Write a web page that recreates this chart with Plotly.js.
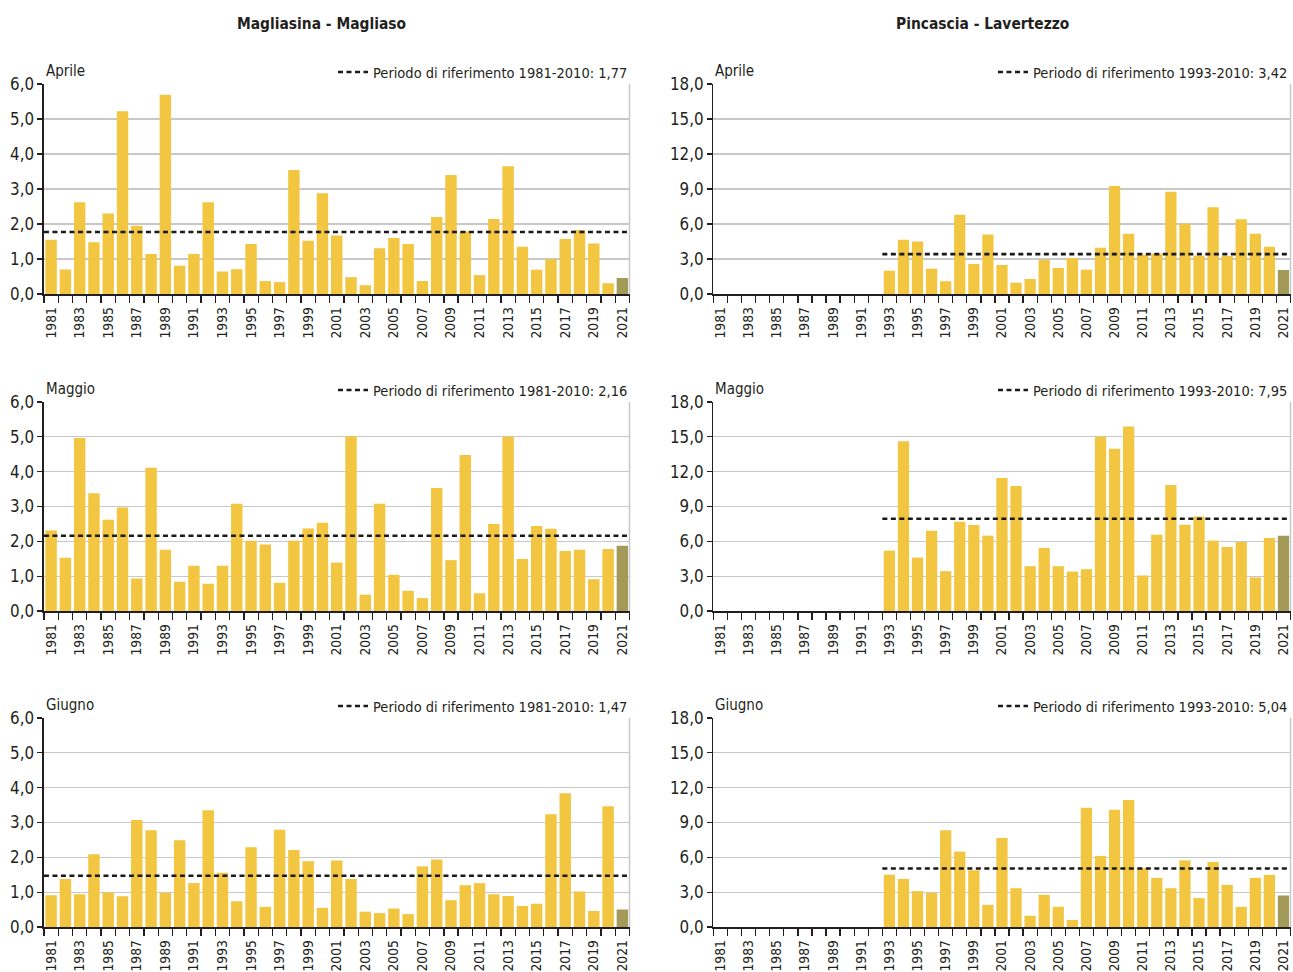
<!DOCTYPE html>
<html>
<head>
<meta charset="utf-8">
<script src="https://cdn.plot.ly/plotly-3.0.1.min.js"></script>
<style>
  html, body { margin: 0; padding: 0; background: #ffffff; }
  #chart { width: 1293px; height: 972px; }
</style>
</head>
<body>
<div id="chart"></div>
<script>
// ---------------- DATA ----------------
const years = [1981,1982,1983,1984,1985,1986,1987,1988,1989,1990,1991,1992,1993,1994,1995,1996,1997,1998,1999,2000,
               2001,2002,2003,2004,2005,2006,2007,2008,2009,2010,2011,2012,2013,2014,2015,2016,2017,2018,2019,2020,2021];
const labelYears = [1981,1983,1985,1987,1989,1991,1993,1995,1997,1999,2001,2003,2005,2007,2009,2011,2013,2015,2017,2019,2021];
const labelText = ['1981','1983','1985','1987','1989','1991','1993','1995','1997','1999','2001','2003','2005','2007','2009','2011','2013','2015','2017','2019','2021'];

const stationTitles = ['Magliasina - Magliaso', 'Pincascia - Lavertezzo'];
const monthNames = ['Aprile', 'Maggio', 'Giugno'];

// Magliasina - Magliaso
const magliasinaApr = [1.55,0.70,2.62,1.48,2.30,5.22,1.95,1.14,5.69,0.81,1.14,2.62,0.64,0.71,1.43,0.37,0.34,3.54,1.52,2.88,
                       1.67,0.48,0.25,1.31,1.60,1.43,0.37,2.20,3.40,1.79,0.54,2.14,3.65,1.35,0.69,0.99,1.57,1.83,1.44,0.31,0.46];
const magliasinaMag = [2.31,1.53,4.97,3.38,2.62,2.97,0.93,4.11,1.76,0.84,1.30,0.78,1.30,3.08,2.02,1.91,0.81,2.02,2.37,2.53,
                       1.39,5.02,0.47,3.08,1.04,0.58,0.37,3.53,1.46,4.48,0.51,2.50,5.00,1.49,2.44,2.36,1.72,1.76,0.91,1.78,1.87];
const magliasinaGiu = [0.91,1.38,0.94,2.09,0.99,0.88,3.07,2.78,0.98,2.49,1.26,3.35,1.56,0.74,2.29,0.58,2.79,2.21,1.89,0.55,
                       1.91,1.38,0.44,0.40,0.53,0.37,1.74,1.94,0.77,1.20,1.26,0.94,0.89,0.60,0.67,3.24,3.84,1.02,0.46,3.47,0.50];

// Pincascia - Lavertezzo (data from 1993)
const pincasciaApr = [null,null,null,null,null,null,null,null,null,null,null,null,
                      2.00,4.66,4.49,2.17,1.09,6.80,2.57,5.09,2.49,0.97,1.29,2.94,2.23,3.09,2.09,3.97,9.26,5.17,3.37,3.46,8.77,6.03,3.29,7.43,3.26,6.40,5.17,4.06,2.06];
const pincasciaMag = [null,null,null,null,null,null,null,null,null,null,null,null,
                      5.20,14.63,4.60,6.91,3.43,7.69,7.40,6.49,11.46,10.77,3.86,5.43,3.86,3.40,3.60,15.00,13.97,15.89,3.06,6.57,10.86,7.43,8.14,6.06,5.51,5.94,2.89,6.29,6.49];
const pincasciaGiu = [null,null,null,null,null,null,null,null,null,null,null,null,
                      4.51,4.14,3.09,2.94,8.34,6.49,4.89,1.91,7.66,3.34,0.97,2.77,1.74,0.60,10.26,6.11,10.09,10.94,5.06,4.23,3.34,5.74,2.49,5.60,3.63,1.74,4.23,4.49,2.71];

const magliasinaRef = [1.77, 2.16, 1.47];
const pincasciaRef = [3.42, 7.95, 5.04];
const magliasinaPeriod = '1981-2010';
const pincasciaPeriod = '1993-2010';

const magliasinaYTicks = [0,1,2,3,4,5,6];
const pincasciaYTicks = [0,3,6,9,12,15,18];

// ---------------- FONT PICKING (narrow font if installed) ----------------
const SAMPLE = 'Periodo di riferimento 1981-2010: 1,77';
const ctx = document.createElement('canvas').getContext('2d');
function tw(fam, stretch, px) {
  ctx.font = px + 'px ' + fam;
  try { ctx.fontStretch = stretch; } catch (e) {}
  const w = ctx.measureText(SAMPLE).width;
  try { ctx.fontStretch = 'normal'; } catch (e) {}
  return w;
}
function installed(fam) {
  return tw(fam + ', monospace', 'normal', 40) !== tw('monospace', 'normal', 40) ||
         tw(fam + ', serif', 'normal', 40) !== tw('serif', 'normal', 40);
}
let FAM = null, STRETCH = 'normal';
const narrowNames = ['"Liberation Sans Narrow"', '"DejaVu Sans Condensed"', '"Arial Narrow"', '"Roboto Condensed"'];
for (const n of narrowNames) { if (installed(n)) { FAM = n; break; } }
if (!FAM) {
  for (const n of ['"Liberation Sans"', '"DejaVu Sans"']) {
    if (installed(n) && tw(n, 'condensed', 40) < 0.93 * tw(n, 'normal', 40)) { FAM = n; STRETCH = 'condensed'; break; }
  }
}
if (!FAM) { FAM = '"Liberation Sans"'; }
if (STRETCH !== 'normal') {
  const s = document.createElement('style');
  s.textContent = 'text { font-stretch: ' + STRETCH + ' !important; }';
  document.head.appendChild(s);
}
// reference legend text is ~255px wide at nominal 16px
const SCALE = Math.min(1, 255 / tw(FAM, STRETCH, 16));
const FONT = FAM + ', sans-serif';

// ---------------- STYLE ----------------
const TEXT = '#231f20';
const BAR = '#F2C640';
const BAR_LAST = '#A39A5A';
const GRID = '#c8c8c8';
const fnt = (size) => ({family: FONT, size: Math.round(size * SCALE * 10) / 10, color: TEXT});

const W = 1293, H = 972;
const colX = [[44/W, 630/W], [714/W, 1291.5/W]];
const rowY = [[1-294/H, 1-84/H], [1-611/H, 1-402/H], [1-927/H, 1-718/H]];

const stations = [
  {series: [magliasinaApr, magliasinaMag, magliasinaGiu], ref: magliasinaRef, period: magliasinaPeriod, ticks: magliasinaYTicks},
  {series: [pincasciaApr, pincasciaMag, pincasciaGiu], ref: pincasciaRef, period: pincasciaPeriod, ticks: pincasciaYTicks}
];

const traces = [];
const layout = {
  width: W, height: H,
  margin: {l: 0, r: 0, t: 0, b: 0},
  paper_bgcolor: '#ffffff',
  plot_bgcolor: '#ffffff',
  separators: ',.',
  font: fnt(16),
  bargap: 0.2,
  showlegend: true,
  annotations: [],
  shapes: []
};

let idx = 0;
for (let r = 0; r < 3; r++) {
  for (let c = 0; c < 2; c++) {
    idx++;
    const st = stations[c];
    const vals = st.series[r];
    const xa = 'x' + idx, ya = 'y' + idx;
    const xk = 'xaxis' + idx, yk = 'yaxis' + idx;
    const lg = idx === 1 ? 'legend' : 'legend' + idx;

    const colors = years.map((y, i) => i === years.length - 1 ? BAR_LAST : BAR);
    traces.push({
      type: 'bar', x: years, y: vals, xaxis: xa, yaxis: ya,
      marker: {color: colors, line: {width: 0}},
      showlegend: false, hoverinfo: 'x+y'
    });

    // reference mean line, from first year with data to last year
    const firstIdx = vals.findIndex(v => v !== null);
    const refVal = st.ref[r];
    traces.push({
      type: 'scatter', mode: 'lines',
      x: [years[firstIdx] - 0.5, years[years.length - 1] + 0.5],
      y: [refVal, refVal],
      xaxis: xa, yaxis: ya,
      line: {color: '#1a1a1a', width: 2.6, dash: '5px,3.5px'},
      name: 'Periodo di riferimento ' + st.period + ': ' + refVal.toFixed(2).replace('.', ','),
      legend: lg, showlegend: true, hoverinfo: 'skip'
    });

    layout[xk] = {
      domain: colX[c], anchor: ya, range: [1980.5, 2021.5],
      tickmode: 'array', tickvals: labelYears, ticktext: labelText,
      ticks: 'outside', ticklen: 6, tickcolor: 'rgba(0,0,0,0)',
      tickangle: -90, tickfont: fnt(15.2), ticklabeloverflow: 'allow',
      showline: true, linecolor: TEXT, linewidth: 1.5,
      showgrid: false, zeroline: false, fixedrange: true,
      minor: {tickmode: 'linear', tick0: 1980.5, dtick: 1, ticks: 'outside', ticklen: 7, tickcolor: TEXT, tickwidth: 1.3, showgrid: false}
    };
    const top = st.ticks[st.ticks.length - 1];
    layout[yk] = {
      domain: rowY[r], anchor: xa, range: [0, top],
      tickmode: 'array', tickvals: st.ticks, tickformat: '.1f',
      ticks: 'outside', ticklen: 5, tickcolor: TEXT, tickwidth: 1.3,
      tickfont: fnt(18.5),
      showline: true, linecolor: TEXT, linewidth: 1.5,
      showgrid: true, gridcolor: GRID, gridwidth: 1.2,
      zeroline: false, fixedrange: true
    };

    layout[lg] = {
      x: colX[c][1] + 3 / W, xanchor: 'right', y: rowY[r][1] - 4 / H, yanchor: 'bottom',
      xref: 'paper', yref: 'paper',
      bgcolor: 'rgba(0,0,0,0)', borderwidth: 0,
      font: fnt(16),
      itemwidth: 30, orientation: 'h', tracegroupgap: 0
    };

    // right border of plot
    layout.shapes.push({
      type: 'line', xref: xa + ' domain', yref: ya + ' domain',
      x0: 1, x1: 1, y0: 0, y1: 1, line: {color: GRID, width: 1.5}
    });

    // month label
    layout.annotations.push({
      text: monthNames[r], xref: xa + ' domain', yref: ya + ' domain',
      x: 0, y: 1, xanchor: 'left', yanchor: 'bottom', showarrow: false,
      xshift: 0, yshift: 2,
      font: fnt(16.5)
    });
  }
}

// station titles
for (let c = 0; c < 2; c++) {
  layout.annotations.push({
    text: '<b>' + stationTitles[c] + '</b>', xref: 'paper', yref: 'paper',
    x: (c === 0 ? 322 : 983) / W, y: 1 - 24 / H, xanchor: 'center', yanchor: 'middle',
    showarrow: false, font: fnt(17)
  });
}

Plotly.newPlot('chart', traces, layout, {displayModeBar: false, staticPlot: true});
</script>
</body>
</html>
